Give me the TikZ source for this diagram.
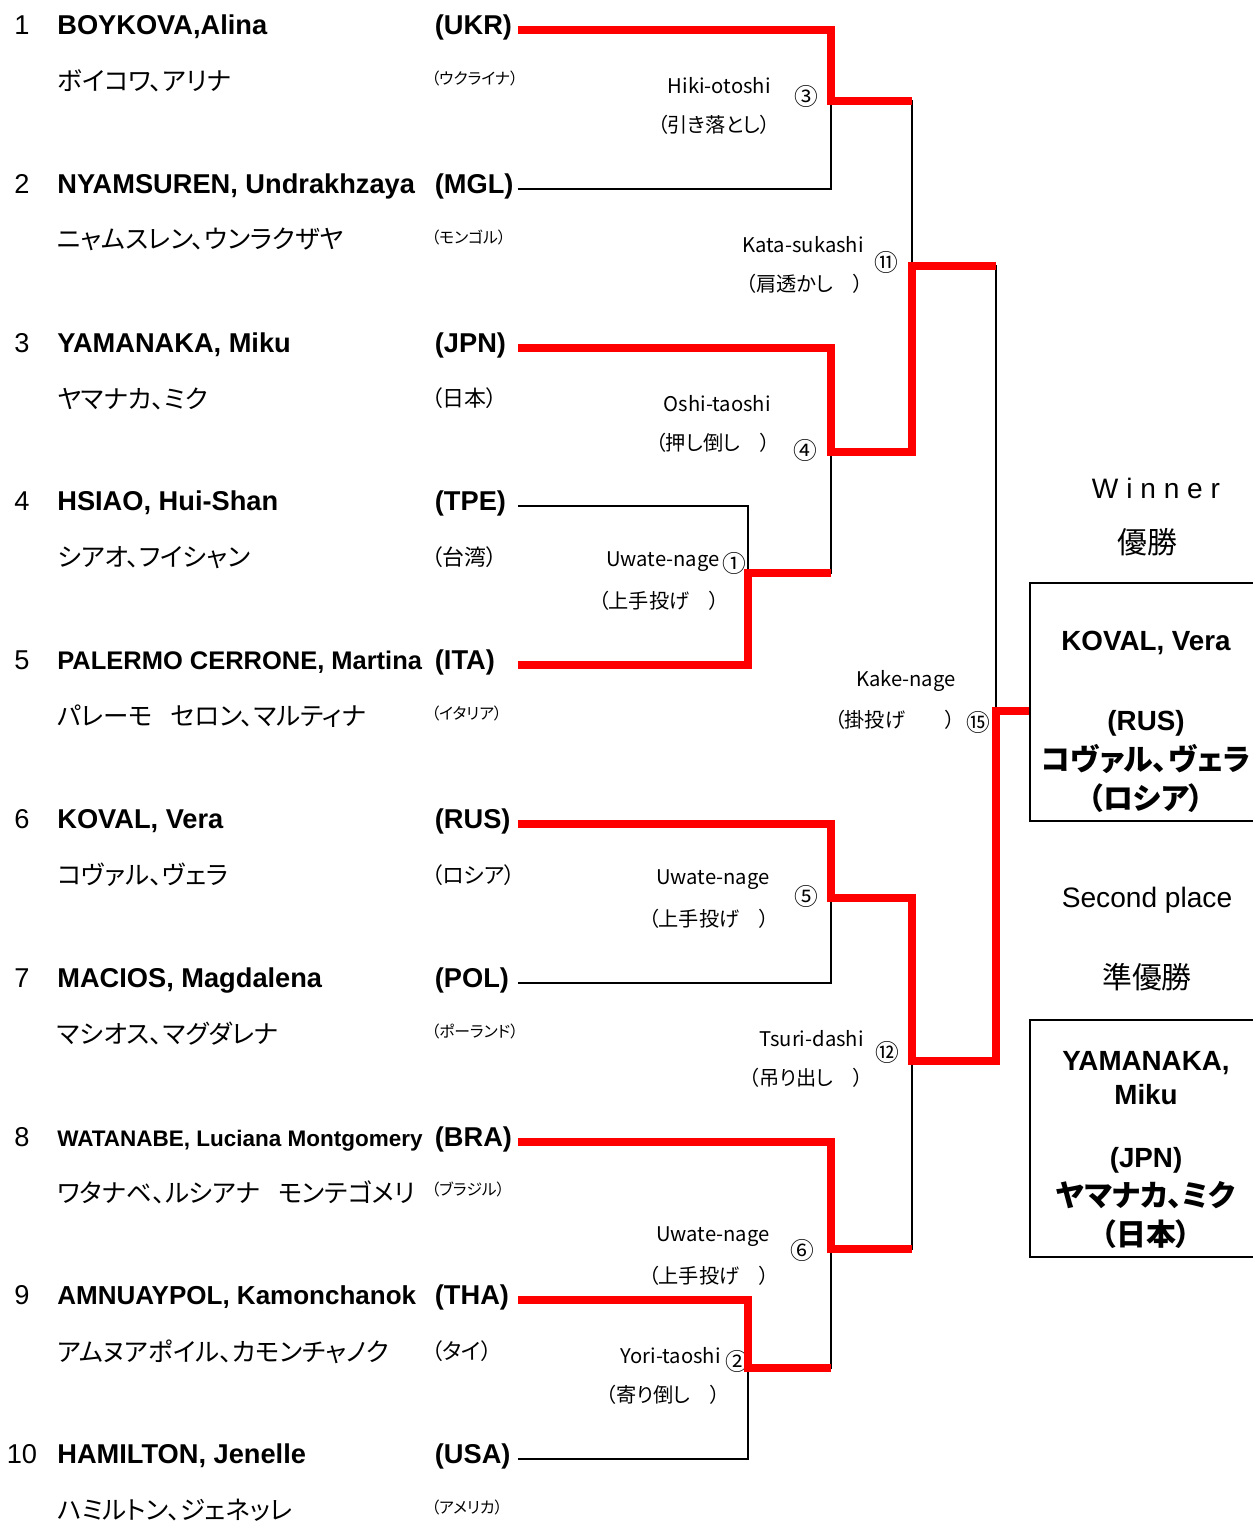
\documentclass[tikz,border=0pt]{standalone}
\usepackage{fontspec}
\setmainfont{Liberation Sans}
\newfontfamily\jp{Noto Sans CJK JP}[CharacterWidth=AlternateProportional]
\usetikzlibrary{calc}

\begin{document}
\begin{tikzpicture}[x=0.02cm, y=-0.02cm,
  entry/.style={inner sep=0pt, text height=.73em, text depth=.21em},
  rank/.style={entry, anchor=center, font=\fontsize{15.5}{18}\selectfont},
  ccode/.style={entry, anchor=west, text width=1.5cm, outer xsep=4.5pt, font=\bfseries\fontsize{15.5}{18}\selectfont},
  pkana/.style={inner sep=0pt, anchor=west, font=\jp\fontsize{14.5}{18}\selectfont},
  tech/.style={inner sep=0pt, anchor=east, font=\jp\fontsize{11.5}{14}\selectfont},
  rnd/.style={inner sep=0pt, font=\jp\fontsize{13.5}{14}\selectfont},
  title/.style={inner sep=0pt, font=\fontsize{16}{18}\selectfont},
  jtitle/.style={inner sep=0pt, font=\jp\fontsize{17}{20}\selectfont},
  placebox/.style={draw, line width=1.1pt, minimum width=4.64cm},
  loser/.style={black, line width=1.1pt},
  winner/.style={red, line width=4.5pt}]
\useasboundingbox (0,0) rectangle (1253,1521);

% entrants
\foreach \i/\nam/\nsz/\code/\kana/\jcc/\jsz
  [evaluate=\i as \y using 30+(\i-1)*158.8] in {
  1/{BOYKOVA,Alina}/15.5/UKR/{ボイコワ、アリナ}/{（ウクライナ）}/9,
  2/{NYAMSUREN, Undrakhzaya}/15.5/MGL/{ニャムスレン、ウンラクザヤ}/{（モンゴル）}/9,
  3/{YAMANAKA, Miku}/15.5/JPN/{ヤマナカ、ミク}/{（日本）}/12.5,
  4/{HSIAO, Hui-Shan}/15.5/TPE/{シアオ、フイシャン}/{（台湾）}/12.5,
  5/{PALERMO CERRONE, Martina}/14.5/ITA/{パレーモ\hspace{.7em}セロン、マルティナ}/{（イタリア）}/9,
  6/{KOVAL, Vera}/15.5/RUS/{コヴァル、ヴェラ}/{（ロシア）}/12.5,
  7/{MACIOS, Magdalena}/15.5/POL/{マシオス、マグダレナ}/{（ポーランド）}/9,
  8/{WATANABE, Luciana Montgomery}/12.8/BRA/{ワタナベ、ルシアナ\hspace{.7em}モンテゴメリ}/{（ブラジル）}/9,
  9/{AMNUAYPOL, Kamonchanok}/14.8/THA/{アムヌアポイル、カモンチャノク}/{（タイ）}/12.5,
  10/{HAMILTON, Jenelle}/15.5/USA/{ハミルトン、ジェネッレ}/{（アメリカ）}/9} {
  \node[rank] (r\i) at (22,\y) {\i};
  \node[entry, anchor=west, font=\bfseries\fontsize{\nsz}{18}\selectfont] (n\i) at (57,\y) {\nam};
  \node[ccode] (c\i) at (427,\y) {(\code)};
  \node[pkana] (k\i) at (57,\y+51) {\kana};
  \node[inner sep=0pt, anchor=west, font=\jp\fontsize{\jsz}{14}\selectfont] (j\i) at (431,\y+41+\jsz*0.8) {\jcc};
}

% kimarite of each bout
\foreach \m/\x/\y/\en/\ja/\rx/\ry/\rn in {
  3/771/86/Hiki-otoshi/{（引き落とし）}/806/96/③,
  11/864/245/Kata-sukashi/{（肩透かし　）}/886/262/⑪,
  4/771/404/Oshi-taoshi/{（押し倒し　）}/805/450/④,
  1/720/562/Uwate-nage/{（上手投げ　）}/734/563/①,
  15/956/681/Kake-nage/{（掛投げ　　）}/978/722/⑮,
  5/770/880/Uwate-nage/{（上手投げ　）}/806/896/⑤,
  12/864/1039/Tsuri-dashi/{（吊り出し　）}/887/1052/⑫,
  6/770/1237/Uwate-nage/{（上手投げ　）}/802/1250/⑥,
  2/721/1356/Yori-taoshi/{（寄り倒し　）}/737/1361/②} {
  \node[tech] (te\m) at (\x,\y) {\en};
  \node[tech] (tj\m) at (\x,\y+39) {\ja};
  \node[rnd] (b\m) at (\rx,\ry) {\rn};
}

% bout junctions
\coordinate (m3) at (831,101);
\coordinate (m11) at (912,266);
\coordinate (m4) at (831,452);
\coordinate (m1) at (748,573);
\coordinate (m15) at (996,711);
\coordinate (m5) at (831,898);
\coordinate (m12) at (912,1061);
\coordinate (m6) at (831,1249);
\coordinate (m2) at (748,1368);

% winner and second place
\node[title] (wt) at (1156,488) {W i n n e r};
\node[jtitle] (wj) at (1147,542) {優勝};
\node[placebox, minimum height=4.76cm] (box1) at (1146,702) {};
\node[align=center, inner sep=0pt, font=\bfseries\fontsize{15.8}{22.7}\selectfont] (w1) at (1146,722)
  {KOVAL, Vera\\[22.7pt] (RUS)\\ {\jp\fontsize{17}{22.7}\selectfont コヴァル、ヴェラ}\\ {\jp\fontsize{17}{22.7}\selectfont （ロシア）}};
\node[title] (st) at (1147,900) {Second place};
\node[jtitle] (sj) at (1147,977) {準優勝};
\node[placebox, minimum height=4.74cm] (box2) at (1146,1138.5) {};
\node[align=center, inner sep=0pt, font=\bfseries\fontsize{15.8}{22.1}\selectfont] (s1) at (1146,1150)
  {YAMANAKA,\\[-2.8pt] Miku\\[13.6pt] (JPN)\\ {\jp\fontsize{17}{22.1}\selectfont ヤマナカ、ミク}\\ {\jp\fontsize{17}{22.1}\selectfont （日本）}};

% losers
\draw[loser] (c2.east) -| (m3);
\draw[loser] (c4.east) -| (m1);
\draw[loser] (c7.east) -| (m5);
\draw[loser] (c10.east) -| (m2);
\draw[loser] (m1) -| (m4);
\draw[loser] (m3) -| (m11);
\draw[loser] (m11) -| (m15);
\draw[loser] (m2) -| (m6);
\draw[loser] (m6) -| (m12);

% winners
\draw[winner] (c1.east) -| (m3) -- (m3 -| m11);
\draw[winner] (c3.east) -| (m4) -| (m11) -- (m11 -| m15);
\draw[winner] (c5.east) -| (m1) -- (m1 -| m4);
\draw[winner] (c6.east) -| (m5) -| (m12) -| (m15) -- (box1.west |- m15);
\draw[winner] (c8.east) -| (m6) -- (m6 -| m12);
\draw[winner] (c9.east) -| (m2) -- (m2 -| m6);
\end{tikzpicture}
\end{document}
